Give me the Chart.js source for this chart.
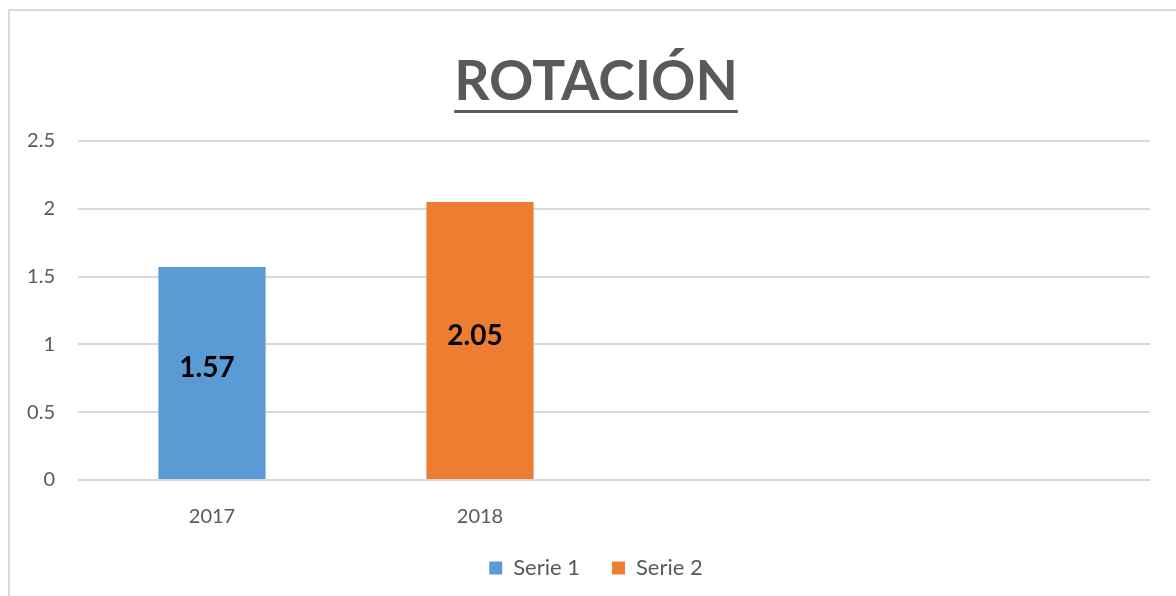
<!DOCTYPE html>
<html>
<head>
<meta charset="utf-8">
<script src="https://cdn.jsdelivr.net/npm/chart.js@4"></script>
<style>
  html, body { margin: 0; padding: 0; background: #fff; overflow: hidden; }
  #frame {
    position: absolute; left: 8px; top: 9px;
    width: 1172px; height: 600px;
    border: 2px solid #d9d9d9;
  }
  #chart { display: block; }
</style>
</head>
<body>
<div id="frame"><canvas id="chart" width="1172" height="600"></canvas></div>
<script>
const categories = ["2017", "2018", "", ""];
const serie1 = [1.57, null, null, null];
const serie2 = [null, 2.05, null, null];
const yTicks = [0, 0.5, 1, 1.5, 2, 2.5];

const FONT = "Lato, 'Open Sans', sans-serif";
const GREY = "#595959";

// underline under the title, like the original
const titleUnderline = {
  id: "titleUnderline",
  afterDraw(chart) {
    const t = chart.titleBlock;
    const opts = chart.options.plugins.title;
    const ctx = chart.ctx;
    const size = opts.font.size;
    ctx.save();
    ctx.font = `bold ${size}px ${FONT}`;
    const w = ctx.measureText(opts.text).width;
    const cx = (t.left + t.right) / 2;
    const mid = t.top + opts.padding.top + size * 1.2 / 2;
    ctx.fillStyle = GREY;
    ctx.fillRect(cx - w / 2, mid + 28, w, 3);
    ctx.restore();
  }
};

// value labels in the middle of each bar
const barLabels = {
  id: "barLabels",
  afterDatasetsDraw(chart) {
    const ctx = chart.ctx;
    ctx.save();
    ctx.font = `bold 28px ${FONT}`;
    ctx.fillStyle = "#000";
    ctx.textAlign = "center";
    ctx.textBaseline = "middle";
    chart.data.datasets.forEach((ds, i) => {
      chart.getDatasetMeta(i).data.forEach((bar, j) => {
        if (ds.data[j] == null) return;
        ctx.fillText(ds.data[j].toFixed(2), bar.x - 5, (bar.y + bar.base) / 2 - 5);
      });
    });
    ctx.restore();
  }
};

new Chart(document.getElementById("chart"), {
  type: "bar",
  data: {
    labels: categories,
    datasets: [
      { label: "Serie 1", data: serie1, backgroundColor: "#5B9BD5", skipNull: true },
      { label: "Serie 2", data: serie2, backgroundColor: "#ED7D31", skipNull: true }
    ]
  },
  options: {
    responsive: false,
    animation: false,
    categoryPercentage: 0.4,
    barPercentage: 1,
    layout: { padding: { left: 0, right: 0, top: 0, bottom: 22 } },
    plugins: {
      title: {
        display: true,
        text: "ROTACIÓN",
        color: GREY,
        font: { family: FONT, size: 55, weight: "bold" },
        padding: { top: 38, bottom: 26 }
      },
      legend: {
        position: "bottom",
        labels: {
          color: GREY,
          font: { family: FONT, size: 22 },
          boxWidth: 13,
          boxHeight: 13,
          padding: 32
        }
      },
      tooltip: { enabled: false }
    },
    scales: {
      x: {
        grid: { display: false, tickLength: 29 },
        border: { display: false },
        ticks: { color: GREY, font: { family: FONT, size: 20, lineHeight: 0.8 }, padding: 0 }
      },
      y: {
        min: 0,
        max: 2.5,
        afterFit(scale) { scale.width = 68; },
        afterBuildTicks(scale) { scale.ticks = yTicks.map(v => ({ value: v })); },
        grid: { color: "#d9d9d9", lineWidth: 2, drawTicks: false },
        border: { display: false },
        ticks: {
          color: GREY,
          font: { family: FONT, size: 20 },
          padding: 23,
          callback: v => String(v)
        }
      },
      // empty right-hand space so the plot ends where the original does
      spacer: {
        position: "right",
        afterFit(scale) { scale.width = 32; },
        grid: { display: false },
        border: { display: false },
        ticks: { display: false }
      }
    }
  },
  plugins: [titleUnderline, barLabels]
});
</script>
</body>
</html>
